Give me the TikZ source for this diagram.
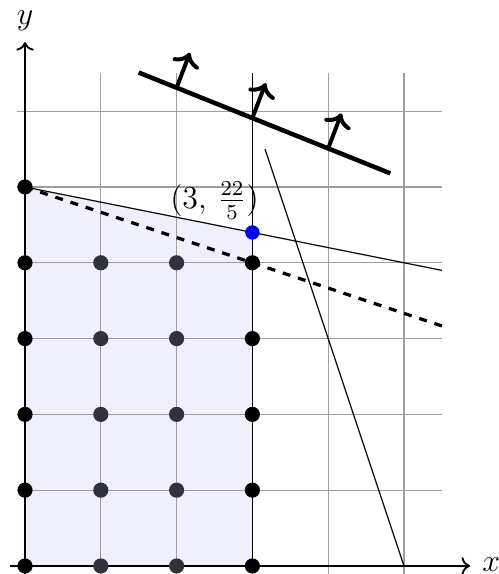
\documentclass[tikz,border=0pt]{standalone}
\usetikzlibrary{arrows.meta}
\definecolor{feasfill}{RGB}{240,240,252}
\definecolor{dotgray}{RGB}{50,50,60}
\tikzset{
  gridline/.style={draw=black!38, line width=0.5pt},
  axisline/.style={draw=black, line width=0.7pt, ->},
  constr/.style={draw=black, line width=0.45pt},
  objline/.style={draw=black, line width=1.7pt},
  objarrow/.style={draw=black, line width=1.5pt, -{To[length=5pt,width=10.5pt]}},
  lattice/.style={circle, fill=black, inner sep=0pt, minimum size=0.2cm},
  latticein/.style={circle, fill=dotgray, inner sep=0pt, minimum size=0.2cm},
  optpt/.style={circle, fill=blue, inner sep=0pt, minimum size=0.19cm},
  lbl/.style={font=\large, inner sep=0pt}
}
\begin{document}
\begin{tikzpicture}[x=1cm,y=1cm]
\useasboundingbox (-0.33,-0.106) rectangle (6.253,7.467);
% feasible region
\fill[feasfill] (0,0) -- (0,5) -- (3,4.4) -- (3,0) -- cycle;
% grid
\draw[gridline] (-0.1,-0.1) grid (5.5,6.5);
% constraint lines
\coordinate (a0) at (0,5);
\coordinate (a1) at (5.5,3.9);
\draw[constr] (a0) -- (a1);
\coordinate (d1) at (5.5,{5-5.5/3});
\draw[dashed, line width=1.2pt] (a0) -- (d1);
\coordinate (v0) at (3,0);
\coordinate (v1) at (3,6.5);
\draw[constr] (v0) -- (v1);
\coordinate (s0) at (5,0);
\coordinate (s1) at ({(15-5.5)/3},5.5);
\draw[constr] (s0) -- (s1);
% axes
\coordinate (xo) at (-0.2,0);
\coordinate (xe) at (5.87,0);
\coordinate (yo) at (0,-0.11);
\coordinate (ye) at (0,6.91);
\draw[axisline] (xo) -- (xe);
\draw[axisline] (yo) -- (ye);
\node[lbl] (xl) at (6.15,0.02) {$x$};
\node[lbl] (yl) at (0,7.2) {$y$};
% objective line
\coordinate (o0) at (1.5,6.51);
\coordinate (o1) at (4.82,5.18);
\draw[objline, line cap=butt] (o0) -- (o1);
\foreach \i in {2,3,4}{
  \coordinate (b\i) at (\i,{5.91-0.4*(\i-3)});
}
\draw[objarrow] (b2) -- ++(0.175,0.46);
\draw[objarrow] (b3) -- ++(0.175,0.46);
\draw[objarrow] (b4) -- ++(0.175,0.46);
% lattice points
\foreach \y in {0,...,4}{
  \node[lattice] (p0\y) at (0,\y) {};
  \node[latticein] (p1\y) at (1,\y) {};
  \node[latticein] (p2\y) at (2,\y) {};
  \node[lattice] (p3\y) at (3,\y) {};
}
\node[lattice] (p05) at (0,5) {};
\node[optpt] (opt) at (3,4.4) {};
\node[lbl] (optl) at (2.5,4.82) {$(3,\,\frac{22}{5})$};
\end{tikzpicture}
\end{document}
